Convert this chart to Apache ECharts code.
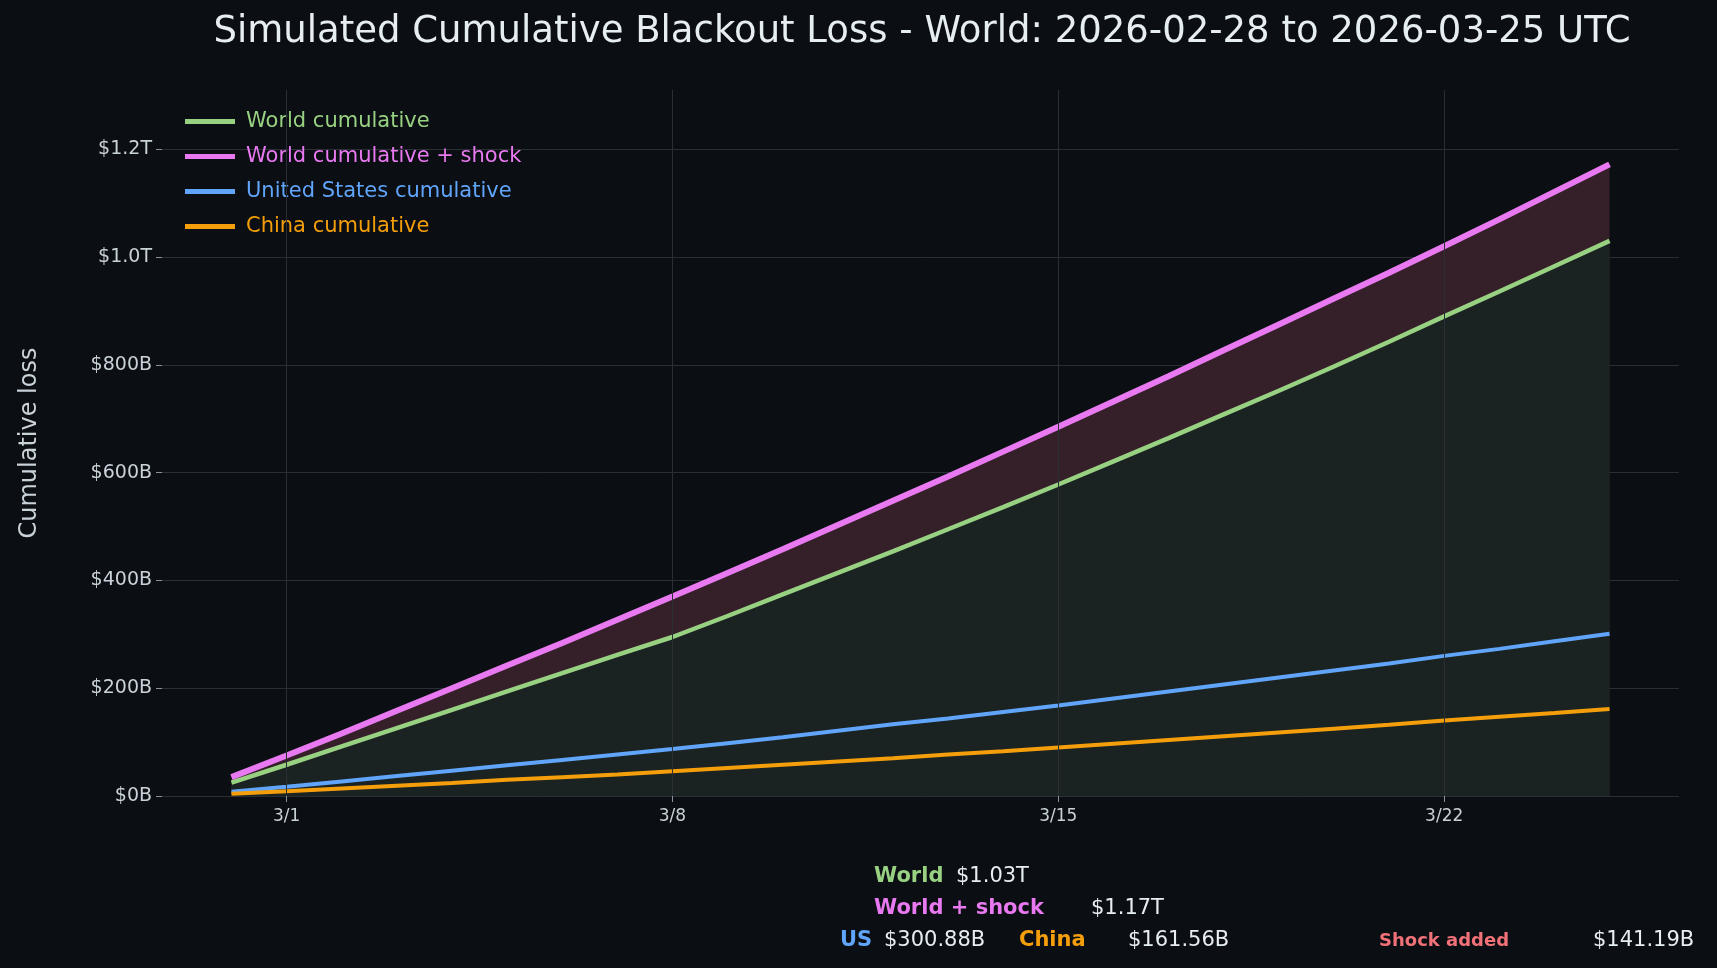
<!DOCTYPE html>
<html><head><meta charset="utf-8">
<script src="https://cdn.jsdelivr.net/npm/echarts@6/dist/echarts.min.js"></script>
<style>html,body{margin:0;background:#0b0e12}#c{width:1717px;height:968px}</style>
</head><body><div id="c"></div>
<script>
// day index 0 = 2026-02-28 ... 25 = 2026-03-25 ; values in $B
const tickDays = [1, 8, 15, 22];
const tickLabels = ['3/1', '3/8', '3/15', '3/22'];
const world = [25,58,92,126,160,194,228,262,295,334,374,414,454,495,536,578,621,664,708,752,797,843,890,936,983,1030];
const worldShock = [35,75,116,158,200,242,284,327,370,414,458,503,548,593,639,685,732,779,827,875,923,971,1020,1070,1121,1172];
const us = [8,17,27,37,47,57,67,77,87,98,109,121,133,144,156,168,181,194,207,220,233,246,260,273,287,300.88];
const china = [4,9,14,19,24,30,35,40,46,52,58,64,70,77,83,90,97,104,111,118,125,132,140,147,154,161.56];

const pts = a => a.map((v, i) => [i, v]);
const G = '#98d182', P = '#e879f0', B = '#60a5fa', O = '#f59e0b';
const fmtY = v => v === 0 ? '$0B' : (v >= 1000 ? '$' + (v / 1000).toFixed(1) + 'T' : '$' + v + 'B');
const lab = tickDays.reduce((m, d, i) => (m[d] = tickLabels[i], m), {});

const chart = echarts.init(document.getElementById('c'));
chart.setOption({
  backgroundColor: '#0b0e12',
  animation: false,
  grid: { left: 162, right: 38, top: 90, bottom: 172 },
  legend: {
    orient: 'vertical', left: 180, top: 106, itemWidth: 50, itemHeight: 5, itemGap: 14,
    icon: 'rect',
    data: [
      { name: 'World cumulative', textStyle: { color: G } },
      { name: 'World cumulative + shock', textStyle: { color: P } },
      { name: 'United States cumulative', textStyle: { color: B } },
      { name: 'China cumulative', textStyle: { color: O } }
    ],
    textStyle: { fontSize: 21, fontFamily: 'DejaVu Sans', padding: [0, 0, 0, 6] }
  },
  xAxis: {
    type: 'value', min: -1.26, max: 26.26,
    axisLine: { show: false, onZero: false },
    axisTick: { show: true, customValues: tickDays, lineStyle: { color: '#8b949e' }, length: 6 },
    axisLabel: { customValues: tickDays, formatter: v => lab[Math.round(v)] || '', color: '#c9d1d9', fontSize: 17, fontFamily: 'DejaVu Sans', margin: 12 },
    splitLine: { show: false }
  },
  yAxis: {
    type: 'value', min: 0, max: 1310, interval: 200,
    name: 'Cumulative loss', nameLocation: 'middle', nameGap: 120, nameRotate: 90,
    nameTextStyle: { color: '#c9d1d9', fontSize: 24, fontFamily: 'DejaVu Sans' },
    axisLine: { show: false, onZero: false },
    axisTick: { show: true, lineStyle: { color: '#8b949e' }, length: 6 },
    axisLabel: { formatter: fmtY, showMaxLabel: false, color: '#c9d1d9', fontSize: 19, fontFamily: 'DejaVu Sans', margin: 10 },
    splitLine: { lineStyle: { color: '#2a2f36' }, showMaxLine: false }
  },
  series: [
    { name: 'shockfill', type: 'line', data: pts(worldShock), symbol: 'none',
      lineStyle: { width: 0 }, areaStyle: { color: '#35202a', opacity: 1 }, z: 1, silent: true },
    { name: 'World cumulative', type: 'line', data: pts(world), symbol: 'none',
      lineStyle: { color: G, width: 4.5 }, itemStyle: { color: G },
      areaStyle: { color: '#1a2321', opacity: 1 }, z: 3,
      markLine: { silent: true, symbol: 'none', label: { show: false },
        lineStyle: { color: '#2a2f36', type: 'solid', width: 1 },
        data: tickDays.map(d => ({ xAxis: d })) } },
    { name: 'World cumulative + shock', type: 'line', data: pts(worldShock), symbol: 'none',
      lineStyle: { color: P, width: 6 }, itemStyle: { color: P }, z: 4 },
    { name: 'United States cumulative', type: 'line', data: pts(us), symbol: 'none',
      lineStyle: { color: B, width: 4 }, itemStyle: { color: B }, z: 4 },
    { name: 'China cumulative', type: 'line', data: pts(china), symbol: 'none',
      lineStyle: { color: O, width: 4 }, itemStyle: { color: O }, z: 4 }
  ],
  graphic: [
    { type: 'text', x: 922, y: 32, style: { text: 'Simulated Cumulative Blackout Loss - World: 2026-02-28 to 2026-03-25 UTC', fill: '#e6edf3', font: '37px DejaVu Sans', textAlign: 'center', textVerticalAlign: 'middle' } },
    { type: 'text', x: 874, y: 877, style: { text: 'World', fill: G, font: 'bold 21px DejaVu Sans', textVerticalAlign: 'middle' } },
    { type: 'text', x: 956, y: 877, style: { text: '$1.03T', fill: '#e6edf3', font: '21px DejaVu Sans', textVerticalAlign: 'middle' } },
    { type: 'text', x: 874, y: 909, style: { text: 'World + shock', fill: P, font: 'bold 21px DejaVu Sans', textVerticalAlign: 'middle' } },
    { type: 'text', x: 1091, y: 909, style: { text: '$1.17T', fill: '#e6edf3', font: '21px DejaVu Sans', textVerticalAlign: 'middle' } },
    { type: 'text', x: 840, y: 941, style: { text: 'US', fill: B, font: 'bold 21px DejaVu Sans', textVerticalAlign: 'middle' } },
    { type: 'text', x: 884, y: 941, style: { text: '$300.88B', fill: '#e6edf3', font: '21px DejaVu Sans', textVerticalAlign: 'middle' } },
    { type: 'text', x: 1019, y: 941, style: { text: 'China', fill: O, font: 'bold 21px DejaVu Sans', textVerticalAlign: 'middle' } },
    { type: 'text', x: 1128, y: 941, style: { text: '$161.56B', fill: '#e6edf3', font: '21px DejaVu Sans', textVerticalAlign: 'middle' } },
    { type: 'text', x: 1379, y: 941, style: { text: 'Shock added', fill: '#f07178', font: 'bold 18px DejaVu Sans', textVerticalAlign: 'middle' } },
    { type: 'text', x: 1593, y: 941, style: { text: '$141.19B', fill: '#e6edf3', font: '21px DejaVu Sans', textVerticalAlign: 'middle' } }
  ]
});
</script></body></html>
